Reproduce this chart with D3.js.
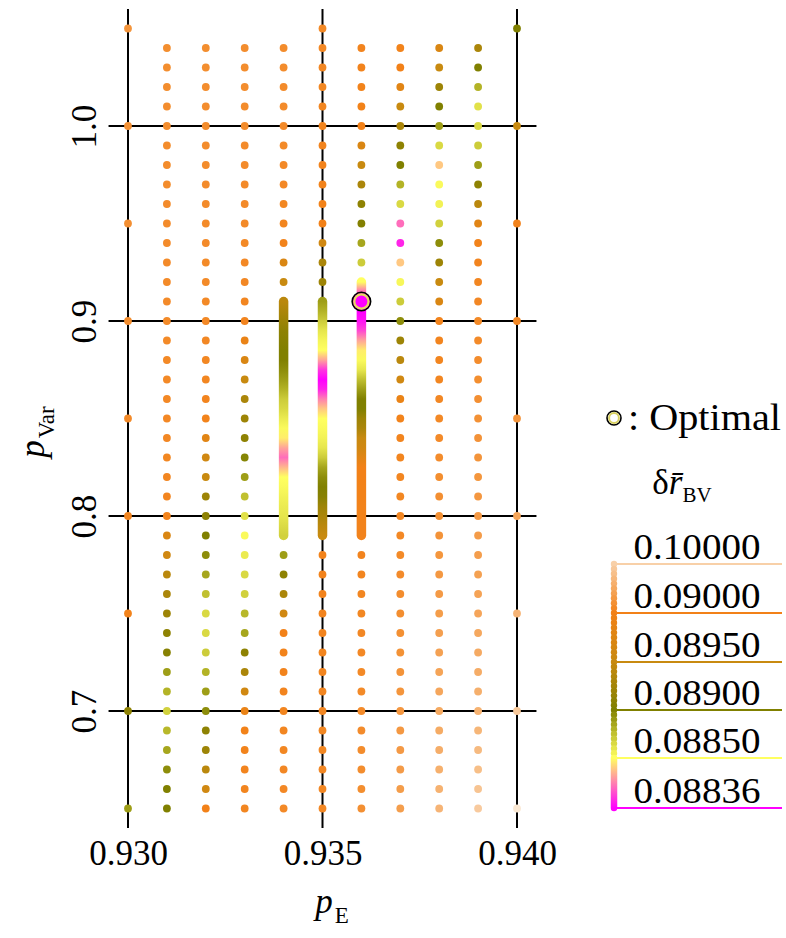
<!DOCTYPE html>
<html>
<head>
<meta charset="utf-8">
<script src="https://cdn.jsdelivr.net/npm/d3@7"></script>
<style>
  body { margin: 0; background: #fff; }
</style>
</head>
<body>
<svg id="chart" width="786" height="938"></svg>
<script>
// ---- data ----
const xTicks = [0.930, 0.935, 0.940];
const yTicks = [0.7, 0.8, 0.9, 1.0];

// sampling rows of the inner columns (top to bottom)
const pVarRows = [1.04, 1.03, 1.02, 1.01, 1.00, 0.99, 0.98, 0.97, 0.96, 0.95,
                  0.94, 0.93, 0.92, 0.91, 0.90, 0.89, 0.88, 0.87, 0.86, 0.85,
                  0.84, 0.83, 0.82, 0.81, 0.80, 0.79, 0.78, 0.77, 0.76, 0.75,
                  0.74, 0.73, 0.72, 0.71, 0.70, 0.69, 0.68, 0.67, 0.66, 0.65];
const pVarRows935 = [1.05].concat(pVarRows);
const pVarCoarse = [1.05, 1.00, 0.95, 0.90, 0.85, 0.80, 0.75, 0.70, 0.65];

// delta r_BV per column (null = covered by the dense scan)
const col930 = [0.0925, 0.0920, 0.0918, 0.0915, 0.0912, 0.0906, 0.0902, 0.0891, 0.08888];
const col931 = [0.0916, 0.0916, 0.0915, 0.0915, 0.0915, 0.0914, 0.0914, 0.0914, 0.0913, 0.0913,
                0.0913, 0.0912, 0.0912, 0.0912, 0.0911, 0.0911, 0.0910, 0.0910, 0.0909, 0.0909,
                0.0908, 0.0907, 0.0906, 0.0905, 0.0902, 0.0897, 0.0896, 0.0894, 0.0893, 0.0892,
                0.0891, 0.08905, 0.08888, 0.0888, 0.08868, 0.08878, 0.08885, 0.08895, 0.0890, 0.0890];
const col932 = [0.0916, 0.0916, 0.0915, 0.0915, 0.0914, 0.0914, 0.0914, 0.0913, 0.0913, 0.0912,
                0.0912, 0.0911, 0.0911, 0.0910, 0.0909, 0.0908, 0.0907, 0.0906, 0.0904, 0.0902,
                0.0898, 0.0896, 0.0895, 0.0892, 0.0891, 0.0890, 0.08895, 0.08885, 0.08875, 0.08865,
                0.08865, 0.0887, 0.0888, 0.08888, 0.08895, 0.0891, 0.0892, 0.0894, 0.0896, 0.0900];
const col933 = [0.0915, 0.0915, 0.0915, 0.0914, 0.0914, 0.0913, 0.0913, 0.0912, 0.0912, 0.0911,
                0.0910, 0.0909, 0.0908, 0.0906, 0.0904, 0.0899, 0.0897, 0.0895, 0.0893, 0.0892,
                0.0891, 0.08898, 0.08888, 0.08875, 0.08862, 0.08852, 0.08858, 0.08865, 0.08868, 0.08878,
                0.08885, 0.0891, 0.0893, 0.0896, 0.0899, 0.0901, 0.0902, 0.0904, 0.0905, 0.0906];
const col934 = [0.0914, 0.0914, 0.0913, 0.0913, 0.0912, 0.0911, 0.0910, 0.0909, 0.0907, 0.0905,
                0.0902, 0.0897, 0.0895, null, null, null, null, null, null, null,
                null, null, null, null, null, null, 0.08888, 0.0891, 0.0893, 0.0896,
                0.0900, 0.0902, 0.0903, 0.0904, 0.0905, 0.0906, 0.0907, 0.0908, 0.0909, 0.0910];
const col935 = [0.0910, 0.0909, 0.0908, 0.0907, 0.0906, 0.0905, 0.0904, 0.0903, 0.0902, 0.0901,
                0.0900, 0.0896, 0.0893, 0.0892, null, null, null, null, null, null,
                null, null, null, null, null, null, null, 0.0902, 0.0903, 0.0903,
                0.0904, 0.0904, 0.0905, 0.0905, 0.0906, 0.0906, 0.0907, 0.0907, 0.0908, 0.0908, 0.0909];
const col936 = [0.0904, 0.0903, 0.0902, 0.0901, 0.0900, 0.0897, 0.0895, 0.0893, 0.0891, 0.08902,
                0.08885, 0.0887, null, null, null, null, null, null, null, null,
                null, null, null, null, null, null, 0.0904, 0.0905, 0.0906, 0.0907,
                0.0908, 0.0909, 0.0910, 0.0911, 0.0912, 0.0913, 0.0914, 0.0915, 0.0916, 0.0918];
const col937 = [0.0902, 0.0900, 0.0898, 0.0895, 0.0893, 0.0891, 0.0890, 0.0888, 0.08865, 0.08842,
                0.08838, 0.08847, 0.08853, 0.0887, 0.08895, 0.0892, 0.0894, 0.0896, 0.0899, 0.0902,
                0.0904, 0.0905, 0.0906, 0.0907, 0.0908, 0.0909, 0.0911, 0.0913, 0.0915, 0.0917,
                0.0919, 0.0921, 0.0923, 0.0925, 0.0927, 0.0929, 0.0931, 0.0933, 0.0935, 0.0937];
const col938 = [0.0897, 0.0895, 0.0892, 0.0890, 0.08888, 0.08865, 0.08847, 0.08852, 0.08855, 0.08868,
                0.08895, 0.0892, 0.0895, 0.0897, 0.0902, 0.0904, 0.0905, 0.0906, 0.0908, 0.0910,
                0.0912, 0.0914, 0.0916, 0.0918, 0.0920, 0.0923, 0.0926, 0.0929, 0.0932, 0.0935,
                0.0938, 0.0941, 0.0944, 0.0947, 0.0950, 0.0953, 0.0956, 0.0959, 0.0962, 0.0965];
const col939 = [0.0893, 0.0890, 0.0888, 0.08862, 0.08865, 0.0887, 0.08888, 0.0891, 0.0894, 0.0898,
                0.0902, 0.0904, 0.0906, 0.0908, 0.0910, 0.0912, 0.0914, 0.0916, 0.0918, 0.0920,
                0.0922, 0.0924, 0.0926, 0.0928, 0.0931, 0.0934, 0.0937, 0.0940, 0.0943, 0.0946,
                0.0949, 0.0952, 0.0955, 0.0958, 0.0962, 0.0967, 0.0972, 0.0978, 0.0985, 0.0993];
const col940 = [0.0890, 0.0895, 0.0903, 0.0908, 0.0925, 0.0945, 0.0965, 0.0990, 0.1030];

// dense scans (p_Var step 0.005)
const densePVar934 = [0.910, 0.905, 0.900, 0.895, 0.890, 0.885, 0.880, 0.875, 0.870, 0.865, 0.860, 0.855, 0.850,
                      0.845, 0.840, 0.835, 0.830, 0.825, 0.820, 0.815, 0.810, 0.805, 0.800, 0.795, 0.790];
const dense934 = [0.0894, 0.0893, 0.0892, 0.0891, 0.08905, 0.0890, 0.0890, 0.08895, 0.08888, 0.0888, 0.0887, 0.08865, 0.08858,
                  0.08852, 0.08849, 0.08845, 0.08842, 0.08846, 0.0885, 0.08852, 0.08855, 0.08858, 0.0886, 0.08864, 0.08868];
const densePVar935 = densePVar934;
const dense935 = [0.08888, 0.0888, 0.0887, 0.0886, 0.08854, 0.0885, 0.08845, 0.08839, 0.08836, 0.08838, 0.08843, 0.08847, 0.0885,
                  0.08852, 0.08855, 0.0886, 0.0887, 0.08885, 0.08895, 0.0890, 0.08905, 0.0892, 0.0893, 0.0894, 0.0895];
const densePVar936 = [0.920, 0.915, 0.910, 0.905, 0.900, 0.895, 0.890, 0.885, 0.880, 0.875, 0.870, 0.865, 0.860, 0.855,
                      0.850, 0.845, 0.840, 0.835, 0.830, 0.825, 0.820, 0.815, 0.810, 0.805, 0.800, 0.795, 0.790];
const dense936 = [0.0885, 0.08842, 0.08836, 0.08836, 0.08837, 0.0884, 0.08845, 0.08849, 0.08852, 0.0886, 0.08875, 0.08888, 0.0890, 0.0890,
                  0.0892, 0.0893, 0.0895, 0.0896, 0.0898, 0.0900, 0.0900, 0.0901, 0.0901, 0.0902, 0.0902, 0.0903, 0.0903];

const optimal = { pE: 0.936, pVar: 0.91 };

// colour key
const legendValues = [0.10000, 0.09000, 0.08950, 0.08900, 0.08850, 0.08836];
const legendColors = ['#f8d0a8', '#f28118', '#c88a10', '#808000', '#ffff60', '#ff00ff'];

// ---- setup ----
const FONT = 'Liberation Serif';
const svg = d3.select('#chart');
const x = d3.scaleLinear().domain([0.930, 0.940]).range([128, 517]);
const y = d3.scaleLinear().domain([0.7, 1.0]).range([711, 126]);
const color = d3.scaleLinear().domain(legendValues).range(legendColors);

const dotR = 3.9;

// grid lines
svg.append('g').selectAll('line').data(xTicks).join('line')
    .attr('x1', d => x(d)).attr('x2', d => x(d))
    .attr('y1', y(1.06)).attr('y2', y(0.64))
    .attr('stroke', '#000').attr('stroke-width', 2);
svg.append('g').selectAll('line').data(yTicks).join('line')
    .attr('x1', x(0.9295)).attr('x2', x(0.9405))
    .attr('y1', d => y(d)).attr('y2', d => y(d))
    .attr('stroke', '#000').attr('stroke-width', 2);

// tick labels via d3 axes
const xAxis = svg.append('g')
    .attr('transform', 'translate(0,' + 833 + ')')
    .call(d3.axisBottom(x).tickValues(xTicks).tickFormat(d3.format('.3f')).tickSize(0).tickPadding(0));
xAxis.select('.domain').remove();
xAxis.selectAll('text')
    .style('font-family', FONT).style('font-size', '35px')
    .attr('fill', '#000').attr('dy', '0.9em');

const yAxis = svg.append('g')
    .attr('transform', 'translate(96,0)')
    .call(d3.axisLeft(y).tickValues(yTicks).tickFormat(d3.format('.1f')).tickSize(0).tickPadding(0));
yAxis.select('.domain').remove();
yAxis.selectAll('text')
    .style('font-family', FONT).style('font-size', '35px')
    .attr('fill', '#000')
    .attr('x', 0).attr('dy', 0)
    .attr('text-anchor', 'middle')
    .attr('transform', 'rotate(-90)');

// axis titles
const xTitle = svg.append('text').attr('x', 332).attr('y', 913).attr('text-anchor', 'middle')
    .style('font-family', FONT);
xTitle.append('tspan').attr('font-style', 'italic').attr('font-size', 35).text('p');
xTitle.append('tspan').attr('font-size', 23).attr('dy', 10).attr('dx', 2).text('E');

const yTitle = svg.append('text').attr('transform', 'translate(44,432) rotate(-90)').attr('text-anchor', 'middle')
    .style('font-family', FONT);
yTitle.append('tspan').attr('font-style', 'italic').attr('font-size', 35).text('p');
yTitle.append('tspan').attr('font-size', 23).attr('dy', 10).attr('dx', 2).text('Var');

// ---- points ----
function columnPoints(pe, rows, vals) {
    return rows.map((pv, i) => ({ pe: pe, pv: pv, v: vals[i] })).filter(d => d.v !== null);
}
const points = [].concat(
    columnPoints(0.930, pVarCoarse, col930),
    columnPoints(0.931, pVarRows, col931),
    columnPoints(0.932, pVarRows, col932),
    columnPoints(0.933, pVarRows, col933),
    columnPoints(0.934, pVarRows, col934),
    columnPoints(0.935, pVarRows935, col935),
    columnPoints(0.936, pVarRows, col936),
    columnPoints(0.937, pVarRows, col937),
    columnPoints(0.938, pVarRows, col938),
    columnPoints(0.939, pVarRows, col939),
    columnPoints(0.940, pVarCoarse, col940)
);

svg.append('g').selectAll('circle').data(points).join('circle')
    .attr('cx', d => x(d.pe)).attr('cy', d => y(d.pv))
    .attr('r', dotR)
    .attr('fill', d => color(d.v));

// dense scans drawn as gradient strokes
const dense = [
    { pe: 0.934, rows: densePVar934, vals: dense934 },
    { pe: 0.935, rows: densePVar935, vals: dense935 },
    { pe: 0.936, rows: densePVar936, vals: dense936 }
];
const defs = svg.append('defs');
dense.forEach((s, k) => {
    const top = y(s.rows[0]), bot = y(s.rows[s.rows.length - 1]);
    const grad = defs.append('linearGradient')
        .attr('id', 'dense' + k)
        .attr('gradientUnits', 'userSpaceOnUse')
        .attr('x1', 0).attr('x2', 0).attr('y1', top).attr('y2', bot);
    s.rows.forEach((pv, i) => {
        grad.append('stop')
            .attr('offset', (y(pv) - top) / (bot - top))
            .attr('stop-color', color(s.vals[i]));
    });
    svg.append('line')
        .attr('x1', x(s.pe)).attr('x2', x(s.pe))
        .attr('y1', top).attr('y2', bot)
        .attr('stroke', 'url(#dense' + k + ')')
        .attr('stroke-width', 9.5)
        .attr('stroke-linecap', 'round');
});

// optimal marker
const opt = svg.append('g').attr('transform', 'translate(' + x(optimal.pE) + ',' + y(optimal.pVar) + ')');
opt.append('circle').attr('r', 9.2).attr('fill', '#ff00ff').attr('stroke', '#000').attr('stroke-width', 1.7);
opt.append('circle').attr('r', 7.1).attr('fill', 'none').attr('stroke', '#e6dc60').attr('stroke-width', 2.2);

// ---- legend ----
const lg = svg.append('g');
const mk = lg.append('g').attr('transform', 'translate(614,418)');
mk.append('circle').attr('r', 7).attr('fill', '#fff').attr('stroke', '#000').attr('stroke-width', 1.6);
mk.append('circle').attr('r', 4.9).attr('fill', '#fff').attr('stroke', '#d8d060').attr('stroke-width', 2);
lg.append('text').attr('x', 628).attr('y', 430)
    .style('font-family', FONT).style('font-size', '37px')
    .attr('textLength', 153).attr('lengthAdjust', 'spacingAndGlyphs')
    .text(': Optimal');

const lt = lg.append('text').attr('x', 682).attr('y', 494).attr('text-anchor', 'middle')
    .style('font-family', FONT);
lt.append('tspan').attr('font-size', 35).text('δ');
lt.append('tspan').attr('font-size', 35).attr('font-style', 'italic').text('r\u0304');
lt.append('tspan').attr('font-size', 21).attr('dy', 8).text('BV');

const legendY = d3.scaleLinear().domain(legendValues).range([564, 613, 662, 710, 758, 808]);

// dotted part of the key
const keyDots = [];
for (let i = 0; i < 4; i++) {
    const y0 = legendY(legendValues[i]), y1 = legendY(legendValues[i + 1]);
    for (let j = 0; j < 10; j++) keyDots.push(y0 + (y1 - y0) * j / 10);
}
lg.append('g').selectAll('circle').data(keyDots).join('circle')
    .attr('cx', 614).attr('cy', d => d).attr('r', 3.2)
    .attr('fill', d => color(legendY.invert(d)));

// continuous part of the key
const kg = defs.append('linearGradient').attr('id', 'keygrad')
    .attr('gradientUnits', 'userSpaceOnUse')
    .attr('x1', 0).attr('x2', 0).attr('y1', legendY(0.0885)).attr('y2', legendY(0.08836));
kg.append('stop').attr('offset', 0).attr('stop-color', color(0.0885));
kg.append('stop').attr('offset', 1).attr('stop-color', color(0.08836));
lg.append('line')
    .attr('x1', 614).attr('x2', 614)
    .attr('y1', legendY(0.0885)).attr('y2', legendY(0.08836))
    .attr('stroke', 'url(#keygrad)').attr('stroke-width', 6.5).attr('stroke-linecap', 'round');

lg.append('g').selectAll('line').data(legendValues).join('line')
    .attr('x1', 614).attr('x2', 782)
    .attr('y1', d => legendY(d)).attr('y2', d => legendY(d))
    .attr('stroke', d => color(d)).attr('stroke-width', 2);

lg.append('g').selectAll('text').data(legendValues).join('text')
    .attr('x', 697).attr('y', d => legendY(d) - 5)
    .attr('text-anchor', 'middle')
    .style('font-family', FONT).style('font-size', '36px')
    .attr('textLength', 127).attr('lengthAdjust', 'spacingAndGlyphs')
    .text(d => d3.format('.5f')(d));
</script>
</body>
</html>
